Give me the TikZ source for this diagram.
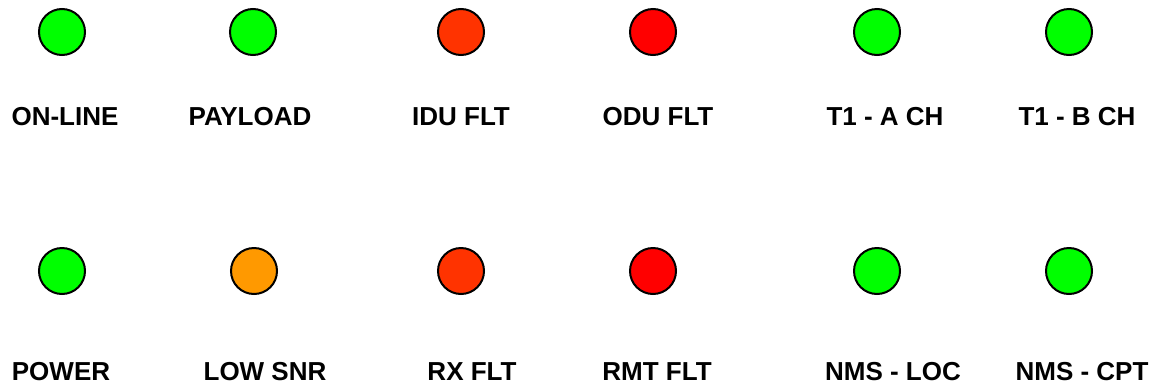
\documentclass[tikz,border=0pt]{standalone}
\usepackage{fontspec}
\setmainfont{Liberation Sans}
\definecolor{ledgreen}{HTML}{00FF00}
\definecolor{ledorangered}{HTML}{FF3300}
\definecolor{ledred}{HTML}{FF0000}
\definecolor{ledorange}{HTML}{FF9900}
\begin{document}
\begin{tikzpicture}[x=1pt,y=-1pt,
  led/.style={circle,draw=black,line width=2pt,minimum size=46pt,inner sep=0pt},
  lbl/.style={anchor=base,inner sep=0pt,font=\fontsize{26}{30}\selectfont\bfseries}]
\useasboundingbox (0,0) rectangle (1158,386);
% top row LEDs
\node[led,fill=ledgreen] (l1) at (62,32) {};
\node[led,fill=ledgreen] (l2) at (253,32) {};
\node[led,fill=ledorangered] (l3) at (461,32) {};
\node[led,fill=ledred] (l4) at (653,32) {};
\node[led,fill=ledgreen] (l5) at (877,32) {};
\node[led,fill=ledgreen] (l6) at (1069,32) {};
% top labels
\node[lbl] (t1) at (65,125) {ON-LINE};
\node[lbl] (t2) at (250,125) {PAYLOAD};
\node[lbl] (t3) at (461,125) {IDU FLT};
\node[lbl] (t4) at (658,125) {ODU FLT};
\node[lbl] (t5) at (885,125) {T1 - A CH};
\node[lbl] (t6) at (1077,125) {T1 - B CH};
% bottom row LEDs
\node[led,fill=ledgreen] (b1) at (62,271) {};
\node[led,fill=ledorange] (b2) at (254,271) {};
\node[led,fill=ledorangered] (b3) at (461,271) {};
\node[led,fill=ledred] (b4) at (653,271) {};
\node[led,fill=ledgreen] (b5) at (877,271) {};
\node[led,fill=ledgreen] (b6) at (1069,271) {};
% bottom labels
\node[lbl] (s1) at (61,380) {POWER};
\node[lbl] (s2) at (265,380) {LOW SNR};
\node[lbl] (s3) at (472,380) {RX FLT};
\node[lbl] (s4) at (657,380) {RMT FLT};
\node[lbl] (s5) at (893,380) {NMS - LOC};
\node[lbl] (s6) at (1082,380) {NMS - CPT};
\end{tikzpicture}
\end{document}
